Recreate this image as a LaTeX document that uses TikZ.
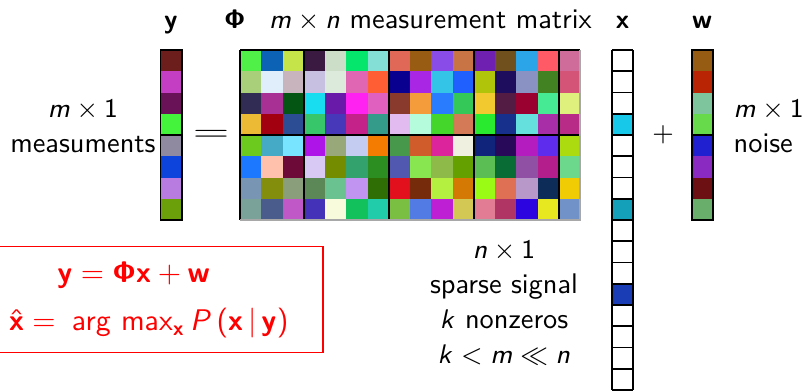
\documentclass[tikz,border=0pt]{standalone}
\usepackage{amsmath}
\definecolor{cred}{HTML}{FF0000}
\definecolor{cedge}{HTML}{A8A8A8}
% sans serif math, as on the slides
\SetSymbolFont{operators}{normal}{OT1}{cmss}{m}{n}
\SetMathAlphabet{\mathbf}{normal}{OT1}{cmss}{bx}{n}
\DeclareSymbolFont{sfslant}{OT1}{cmss}{m}{sl}
\DeclareMathSymbol{m}{\mathalpha}{sfslant}{`m}
\DeclareMathSymbol{n}{\mathalpha}{sfslant}{`n}
\DeclareMathSymbol{k}{\mathalpha}{sfslant}{`k}
\DeclareMathSymbol{P}{\mathalpha}{sfslant}{`P}
\tikzset{
  every picture/.style={font=\fontsize{9.5}{11.7}\selectfont\sffamily, x=0.25cm, y=0.25cm},
  vlabel/.style={anchor=base, inner sep=0pt},
  note/.style={align=center, inner sep=0pt},
  sep/.style={draw=black, line width=0.6pt},
  edge/.style={draw=cedge, line width=0.6pt},
  eqbox/.style={draw=cred, text=cred, line width=0.5pt, align=center, font=\fontsize{10.2}{12.2}\selectfont\sffamily,
    minimum width=116.7pt, minimum height=35.5pt},
}
\newcommand{\cellat}[3]{
  \definecolor{cellc}{HTML}{#3}
  \fill[cellc] (#1,#2) rectangle ++(1,-1);
}
% one column of cells, from the top at x=#1
\newcommand{\colvec}[2]{
  \foreach \hex [count=\i from 0] in {#2} {
    \edef\docell{\noexpand\cellat{#1}{-\i}{\hex}}\docell
  }
}
% one row of the matrix, row #1
\newcommand{\matrow}[2]{
  \foreach \hex [count=\i from 0] in {#2} {
    \edef\docell{\noexpand\cellat{\i}{-#1}{\hex}}\docell
  }
}

\begin{document}
\begin{tikzpicture}
  \useasboundingbox (-11.3,2.353) rectangle (26.63,-16);
  % measurement matrix
  \matrow{0}{50F048,0C62B4,C4E44A,3A1A40,CCDEC8,04E66C,84E0D6,E06856,985C12,8A4CE8,C87444,7020B0,70501C,2CA4E8,FF5A66,D06C9A}
  \matrow{1}{AACF7A,E0EEFC,C8B4BC,C8C0E0,DCEADC,E066B4,FF5E34,0A0090,A826E4,34C4E8,2060FF,B0C40A,1E0C5C,8A92C4,428222,D45478}
  \matrow{2}{302C54,A83094,045414,18DDF0,6A1AA8,FF22F0,E060C0,8A3A2C,F49C3C,2A7CFF,34C858,F2CA30,521C44,9A0030,46EA94,E0F07C}
  \matrow{3}{ECBA34,A20010,2C4C94,38C66A,4638B8,C42288,349A8A,E2BCF0,B4FCDC,44D62A,D47A56,2AEA30,16308C,66E0DC,A82EA8,B82C88}
  \matrow{4}{6CCA1E,44AAC6,78E4FF,AE14E8,98A878,C4CCF2,F47C00,48984C,D05C2C,DC249C,F0F0E0,10247C,280858,B41CC0,5E2CEC,ACDC10}
  \matrow{5}{1C78FF,FFC0AC,6E0A38,D8C8F4,748C00,34A26C,2C8E20,5058B0,88E650,8EBA4A,64A000,5ABE54,086C34,9050A4,B41E8C,6CD88C}
  \matrow{6}{7896B4,828E0C,8A9E7C,5C8858,6AC290,C094F0,2E6E04,E2101C,762C0A,B4F040,D47A04,9AFC14,E07054,B898C8,0E2C58,F0CC04}
  \matrow{7}{7AA298,4A5C8C,C058C8,4432B8,F8FCDC,12C05C,20CCAA,7ABE42,527CE4,BE1ED4,D4C854,E27C94,B03464,2C04E0,E8E820,7092C8}
  \foreach \xx in {0,3,7,11,15} \draw[sep] (\xx,0) -- (\xx,-8);
  \foreach \yy in {0,4} \draw[sep] (0,-\yy) -- (16,-\yy);
  \draw[edge] (16,0) -- (16,-8) -- (0,-8);
  % measurements y and noise w
  \colvec{-3.75}{6C1E1C,C43EC4,6A1258,44F43C,908AA0,0C44DC,B87CE0,6CA00A}
  \draw[sep] (-3.75,0) rectangle (-2.75,-8) (-3.75,-4) -- (-2.75,-4);
  \colvec{21.25}{965C14,B82404,7EC49C,66DA4A,2020D0,8A2AC0,6C1014,6AAE6C}
  \draw[sep] (21.25,0) rectangle (22.25,-8) (21.25,-4) -- (22.25,-4);
  % sparse signal x
  \foreach \k/\hex in {3/18C8E8,7/14A0B8,11/1A3CB4} {
    \edef\docell{\noexpand\cellat{17.5}{-\k}{\hex}}\docell
  }
  \foreach \k in {0,...,16} \draw[sep] (17.5,-\k) -- (18.5,-\k);
  \draw[sep] (17.5,0) -- (17.5,-16) (18.5,0) -- (18.5,-16);
  % labels
  \node[vlabel] (ylab) at (-3.25,1) {$\mathbf{y}$};
  \node[vlabel] (philab) at (7.9,1) {$\mathbf{\Phi}$\ \ \,$m\times n$ measurement matrix};
  \node[vlabel] (xlab) at (18,1) {$\mathbf{x}$};
  \node[vlabel] (wlab) at (21.75,1) {$\mathbf{w}$};
  \node[note, anchor=east] (ynote) at (-3.95,-3.6) {$m\times 1$\\measuments};
  \node (eqsign) at (-1.36,-4) {\scalebox{1.7}[1]{$=$}};
  \node (plus) at (19.9,-4) {$+$};
  \node[note, anchor=west, align=left] (wnote) at (23.2,-3.6) {$m\times 1$\\noise};
  \node[note, anchor=north] (xnote) at (12.42,-8.97) {$n\times 1$\\sparse signal\\$k$ nonzeros\\$k<m\ll n$};
  \node[eqbox] (model) at (-4.3,-11.75) {$\mathbf{y}=\mathbf{\Phi}\mathbf{x}+\mathbf{w}$\hspace{10pt}\null\\[4pt]$\hat{\mathbf{x}}=\;\arg\,\max_{\mathbf{x}} P\left(\mathbf{x}\,\middle|\,\mathbf{y}\right)$};
\end{tikzpicture}
\end{document}
